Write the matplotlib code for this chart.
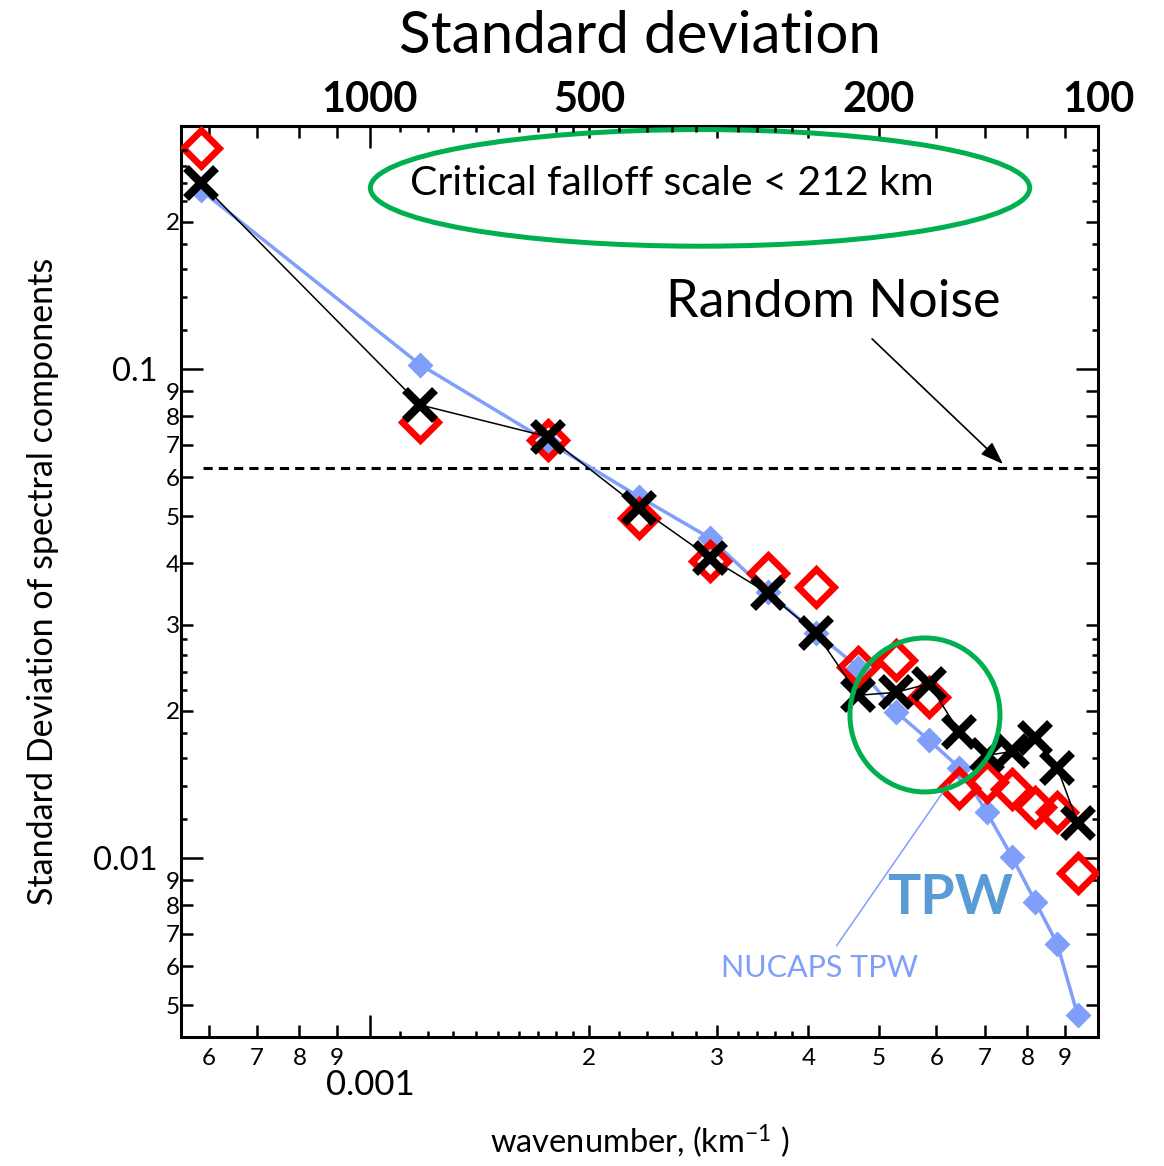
import numpy as np
import matplotlib
matplotlib.use('Agg')
import matplotlib.pyplot as plt
from matplotlib.patches import Ellipse
from matplotlib.ticker import FixedLocator, FixedFormatter, NullLocator, NullFormatter

plt.rcParams['font.family'] = ['Lato', 'DejaVu Sans']
plt.rcParams['mathtext.default'] = 'regular'

# ---------------- data ----------------
wavenumber = [0.000586, 0.001172, 0.001758, 0.002344, 0.00293, 0.003516, 0.004102, 0.004688,
              0.005274, 0.00586, 0.006446, 0.007032, 0.007618, 0.008204, 0.00879, 0.009376]
nucaps_tpw = [0.232, 0.102, 0.0709, 0.0547, 0.0451, 0.0350, 0.0288, 0.0245,
              0.0199, 0.0174, 0.0153, 0.0124, 0.01005, 0.00813, 0.00667, 0.00477]
red_series = [0.283, 0.0779, 0.0716, 0.0496, 0.0405, 0.0383, 0.0358, 0.0246,
              0.0254, 0.0213, 0.0139, 0.0143, 0.0138, 0.0127, 0.0124, 0.00932]
black_series = [0.240, 0.0844, 0.0726, 0.0520, 0.0411, 0.0348, 0.0288, 0.0215,
                0.0218, 0.0227, 0.0181, 0.0162, 0.0165, 0.0176, 0.0153, 0.0118]
noise_level = 0.0627

x_major = [0.001]
x_major_labels = ['0.001']
x_minor = [6e-4, 7e-4, 8e-4, 9e-4, 2e-3, 3e-3, 4e-3, 5e-3, 6e-3, 7e-3, 8e-3, 9e-3]
x_minor_labels = ['6', '7', '8', '9', '2', '3', '4', '5', '6', '7', '8', '9']
x_sub = [1.1e-3, 1.2e-3, 1.3e-3, 1.4e-3, 1.5e-3, 1.6e-3, 1.7e-3, 1.8e-3, 1.9e-3,
         2.2e-3, 2.4e-3, 2.6e-3, 2.8e-3, 3.2e-3, 3.4e-3, 3.6e-3, 3.8e-3]

y_major = [0.01, 0.1]
y_major_labels = ['0.01', '0.1']
y_minor = [0.005, 0.006, 0.007, 0.008, 0.009, 0.02, 0.03, 0.04, 0.05, 0.06, 0.07, 0.08, 0.09, 0.2]
y_minor_labels = ['5', '6', '7', '8', '9', '2', '3', '4', '5', '6', '7', '8', '9', '2']
y_sub = [0.012, 0.014, 0.016, 0.018, 0.022, 0.024, 0.026, 0.028,
         0.12, 0.14, 0.16, 0.18, 0.22, 0.24, 0.26, 0.28]

top_ticks = [1000, 500, 200, 100]
top_labels = ['1000', '500', '200', '100']

# ---------------- figure ----------------
fig = plt.figure(figsize=(11.64, 11.66), dpi=100)
pos = [0.1555, 0.1106, 0.7878, 0.7814]
ax = fig.add_axes(pos)
ax.set_xscale('log')
ax.set_yscale('log')
xlim = (0.00055, 0.01)
ylim = (0.0043, 0.314)
ax.set_xlim(*xlim)
ax.set_ylim(*ylim)

blue = '#809ffa'
ax.plot(wavenumber, nucaps_tpw, color=blue, lw=2.5, marker='D', ms=13,
        mec='none', mfc=blue, zorder=2)
ax.plot(wavenumber, red_series, ls='none', marker='D', ms=18, mfc='none',
        mec='#ff0000', mew=4.8, zorder=3)
ax.plot(wavenumber, black_series, color='black', lw=1.1, zorder=4)
ax.plot(wavenumber, black_series, ls='none', marker='x', ms=21, mew=6,
        color='black', zorder=5)

ax.axhline(noise_level, xmin=0.024, xmax=1, color='black', lw=2.2,
           ls=(0, (3, 2)), zorder=1)

for sp in ax.spines.values():
    sp.set_linewidth(2.2)

ax.xaxis.set_major_locator(FixedLocator(x_major))
ax.xaxis.set_major_formatter(FixedFormatter(x_major_labels))
ax.xaxis.set_minor_locator(FixedLocator(x_minor))
ax.xaxis.set_minor_formatter(FixedFormatter(x_minor_labels))
ax.yaxis.set_major_locator(FixedLocator(y_major))
ax.yaxis.set_major_formatter(FixedFormatter(y_major_labels))
ax.yaxis.set_minor_locator(FixedLocator(y_minor))
ax.yaxis.set_minor_formatter(FixedFormatter(y_minor_labels))

ax.tick_params(which='both', direction='in', width=1.8, top=True, right=True,
               labeltop=False, labelright=False)
ax.tick_params(which='major', length=15.8)
ax.tick_params(which='minor', length=8.6, labelsize=17.5)
ax.tick_params(axis='x', which='major', pad=23, labelsize=25)
ax.tick_params(axis='x', which='minor', pad=8)
ax.tick_params(axis='y', which='major', pad=17, labelsize=23.5)
ax.tick_params(axis='y', which='minor', pad=1)

ax.set_xlabel(r'wavenumber, (km$^{-1}$ )', fontsize=23.5, labelpad=15)
ax.set_ylabel('Standard Deviation of spectral components', fontsize=24.5, labelpad=24)

# sub-minor ticks on an overlay axes
axs = fig.add_axes(pos)
axs.set_xscale('log')
axs.set_yscale('log')
axs.set_xlim(*xlim)
axs.set_ylim(*ylim)
axs.patch.set_visible(False)
for sp in axs.spines.values():
    sp.set_visible(False)
axs.xaxis.set_major_locator(NullLocator())
axs.yaxis.set_major_locator(NullLocator())
axs.xaxis.set_minor_locator(FixedLocator(x_sub))
axs.yaxis.set_minor_locator(FixedLocator(y_sub))
axs.xaxis.set_minor_formatter(NullFormatter())
axs.yaxis.set_minor_formatter(NullFormatter())
axs.tick_params(which='minor', direction='in', length=4.3, width=1.8, top=True,
                right=True, labelbottom=False, labelleft=False)


# top axis: wavelength
def recip(x):
    x = np.asarray(x, dtype=float)
    with np.errstate(divide='ignore', invalid='ignore'):
        return 1.0 / x


secax = ax.secondary_xaxis('top', functions=(recip, recip))
secax.set_xticks(top_ticks)
secax.set_xticklabels(top_labels, fontweight='bold', fontsize=30)
secax.xaxis.set_minor_locator(NullLocator())
secax.tick_params(axis='x', which='both', length=0, pad=5)
secax.spines['top'].set_linewidth(2.2)
secax.set_xlabel('Standard deviation', fontsize=42, labelpad=20)

# annotations
green = '#00b050'
ax.add_patch(Ellipse((0.566, 0.932), 0.719, 0.128, transform=ax.transAxes,
                     fill=False, ec=green, lw=3.6, clip_on=False, zorder=6))
ax.add_patch(Ellipse((0.8113, 0.3535), 0.1636, 0.169, transform=ax.transAxes,
                     fill=False, ec=green, lw=3.6, clip_on=False, zorder=6))
ax.text(0.5354, 0.9363, 'Critical falloff scale < 212 km', transform=ax.transAxes,
        ha='center', va='center', fontsize=29.5, zorder=7)
ax.text(0.711, 0.8057, 'Random Noise', transform=ax.transAxes,
        ha='center', va='center', fontsize=37.5, zorder=7)
ax.annotate('', xy=(0.8986, 0.6268), xytext=(0.7514, 0.7684),
            xycoords='axes fraction', textcoords='axes fraction',
            arrowprops=dict(arrowstyle='-|>,head_length=0.7,head_width=0.25',
                            color='black', lw=1.2, mutation_scale=20))
ax.text(0.8386, 0.1526, 'TPW', transform=ax.transAxes, ha='center', va='center',
        fontsize=40, fontweight='bold', color='#5b9bd5', zorder=7)
ax.text(0.6968, 0.0757, 'NUCAPS TPW', transform=ax.transAxes, ha='center',
        va='center', fontsize=22, color=blue, zorder=7)
ax.annotate('', xy=(0.8386, 0.2799), xytext=(0.7132, 0.0977),
            xycoords='axes fraction', textcoords='axes fraction',
            arrowprops=dict(arrowstyle='-', color=blue, lw=1.1))

fig.savefig('out.png', dpi=100, facecolor='white')
